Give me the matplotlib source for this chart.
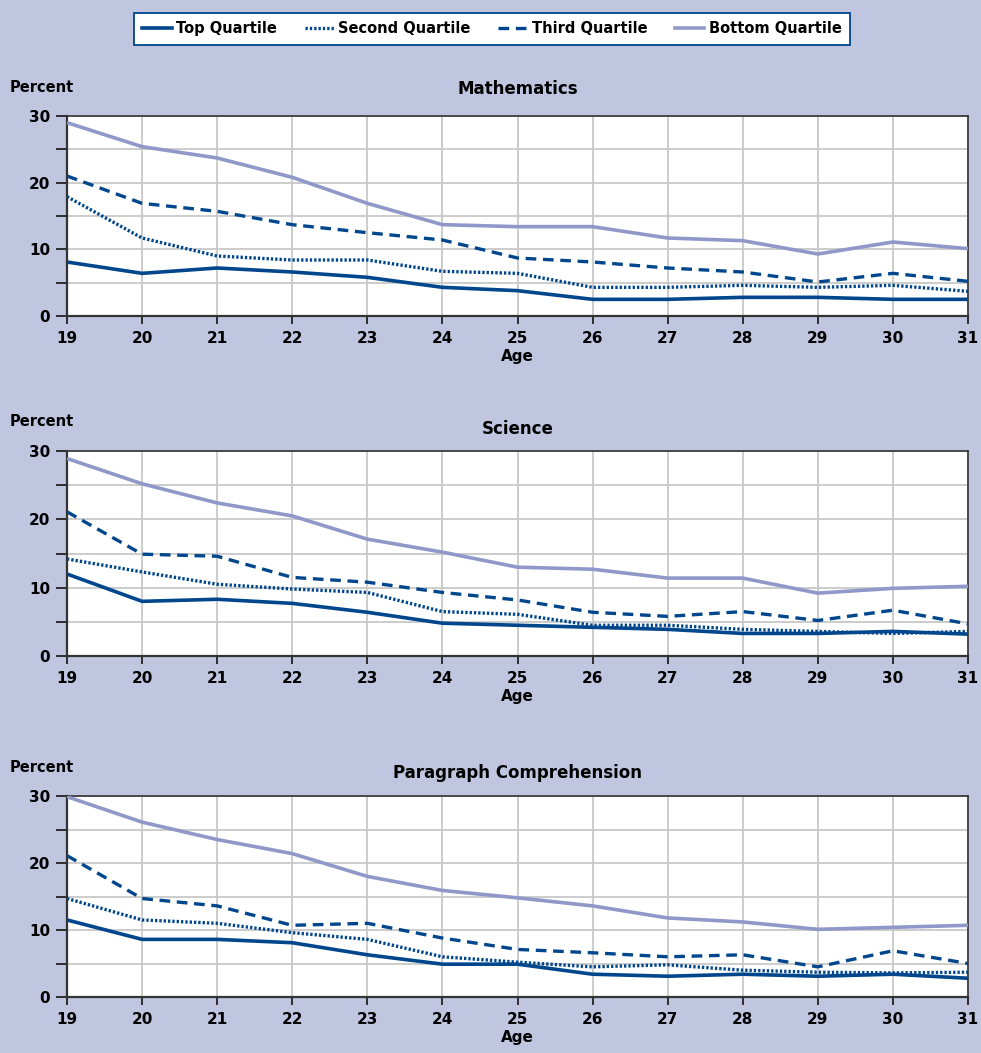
import numpy as np
import matplotlib
matplotlib.use("Agg")
import matplotlib.pyplot as plt
from matplotlib.lines import Line2D

# ages on the x axis
ages = list(range(19, 32))

# Mathematics
math_top = [8.1, 6.4, 7.2, 6.6, 5.8, 4.3, 3.8, 2.5, 2.5, 2.8, 2.8, 2.5, 2.5]
math_second = [17.9, 11.7, 9.0, 8.4, 8.4, 6.7, 6.4, 4.3, 4.3, 4.6, 4.3, 4.6, 3.7]
math_third = [21.0, 16.9, 15.7, 13.7, 12.5, 11.4, 8.7, 8.1, 7.2, 6.6, 5.1, 6.4, 5.2]
math_bottom = [29.0, 25.4, 23.7, 20.8, 16.9, 13.7, 13.4, 13.4, 11.7, 11.3, 9.3, 11.1, 10.1]

# Science
sci_top = [12.0, 8.0, 8.3, 7.7, 6.4, 4.8, 4.5, 4.2, 3.9, 3.3, 3.3, 3.6, 3.2]
sci_second = [14.2, 12.3, 10.5, 9.8, 9.3, 6.5, 6.1, 4.5, 4.5, 3.9, 3.6, 3.3, 3.6]
sci_third = [21.1, 14.9, 14.6, 11.5, 10.8, 9.3, 8.2, 6.4, 5.8, 6.5, 5.2, 6.7, 4.7]
sci_bottom = [28.9, 25.2, 22.4, 20.5, 17.1, 15.2, 13.0, 12.7, 11.4, 11.4, 9.2, 9.9, 10.2]

# Paragraph Comprehension
par_top = [11.5, 8.6, 8.6, 8.1, 6.3, 4.9, 4.9, 3.4, 3.1, 3.4, 3.1, 3.4, 2.8]
par_second = [14.7, 11.5, 11.0, 9.6, 8.6, 6.0, 5.2, 4.5, 4.8, 4.0, 3.7, 3.6, 3.7]
par_third = [21.1, 14.7, 13.6, 10.7, 11.0, 8.8, 7.1, 6.6, 6.0, 6.3, 4.5, 6.9, 5.0]
par_bottom = [29.9, 26.1, 23.5, 21.4, 18.0, 15.9, 14.8, 13.6, 11.8, 11.2, 10.1, 10.4, 10.7]

titles = ["Mathematics", "Science", "Paragraph Comprehension"]
panels = [
    [math_top, math_second, math_third, math_bottom],
    [sci_top, sci_second, sci_third, sci_bottom],
    [par_top, par_second, par_third, par_bottom],
]
labels = ["Top Quartile", "Second Quartile", "Third Quartile", "Bottom Quartile"]

bg = "#c0c5e0"
dark = "#00468c"
light = "#8f98c9"
styles = [
    dict(color=dark, lw=2.6, ls="-"),
    dict(color=dark, lw=2.4, ls=(0, (0.7, 0.6))),
    dict(color=dark, lw=2.4, ls=(0, (3.2, 2.0))),
    dict(color=light, lw=2.6, ls="-"),
]

plt.rcParams["font.family"] = ["DejaVu Sans"]
plt.rcParams["font.weight"] = "bold"

fig = plt.figure(figsize=(9.81, 10.53), dpi=100, facecolor=bg)

# axes boxes in pixels: (top, bottom) of the plotting area, and title pad
boxes = [(116, 316, 16), (451, 656, 12), (796, 997, 13)]
left_px, right_px = 67, 968
W, H = 981, 1053

for (top, bot, tpad), title, series in zip(boxes, titles, panels):
    ax = fig.add_axes([left_px / W, 1 - bot / H, (right_px - left_px) / W, (bot - top) / H])
    ax.set_facecolor("white")
    for vals, st in zip(series, styles):
        ax.plot(ages, vals, solid_capstyle="butt", dash_capstyle="butt", zorder=3, **st)
    ax.set_xlim(19, 31)
    ax.set_ylim(0, 30)
    ax.set_xticks(ages)
    ax.set_yticks([0, 10, 20, 30])
    ax.set_yticks([5, 15, 25], minor=True)
    ax.grid(True, which="both", color="#c8c8c8", lw=1.3, zorder=0)
    ax.tick_params(axis="x", length=6, width=1.3, pad=5, labelsize=11, colors="#222222")
    ax.tick_params(axis="y", which="both", length=8, width=1.3, pad=4, labelsize=11, colors="#222222")
    for lab in ax.get_xticklabels() + ax.get_yticklabels():
        lab.set_fontweight("bold")
        lab.set_color("black")
    for s in ["left", "bottom"]:
        ax.spines[s].set_linewidth(1.6)
        ax.spines[s].set_color("#333333")
    for s in ["top", "right"]:
        ax.spines[s].set_linewidth(1.2)
        ax.spines[s].set_color("#333333")
    ax.set_xlabel("Age", fontsize=11, fontweight="bold", labelpad=2)
    ax.set_title(title, fontsize=12, fontweight="bold", pad=tpad)
    fig.text(10 / W, 1 - (top - 29) / H, "Percent", fontsize=10.5, fontweight="bold", va="center")

handles = [Line2D([0], [0], **st) for st in styles]
leg = fig.legend(handles, labels, loc="center", bbox_to_anchor=(492 / W, 1 - 29 / H), ncol=4,
                 frameon=True, fancybox=False, framealpha=1, fontsize=10.5, handlelength=2.0,
                 handletextpad=0.3, columnspacing=1.9, borderpad=0.55)
leg.get_frame().set_edgecolor(dark)
leg.get_frame().set_linewidth(1.3)
leg.get_frame().set_facecolor("white")
for t in leg.get_texts():
    t.set_fontweight("bold")

fig.savefig("out.png", dpi=100, facecolor=bg)
